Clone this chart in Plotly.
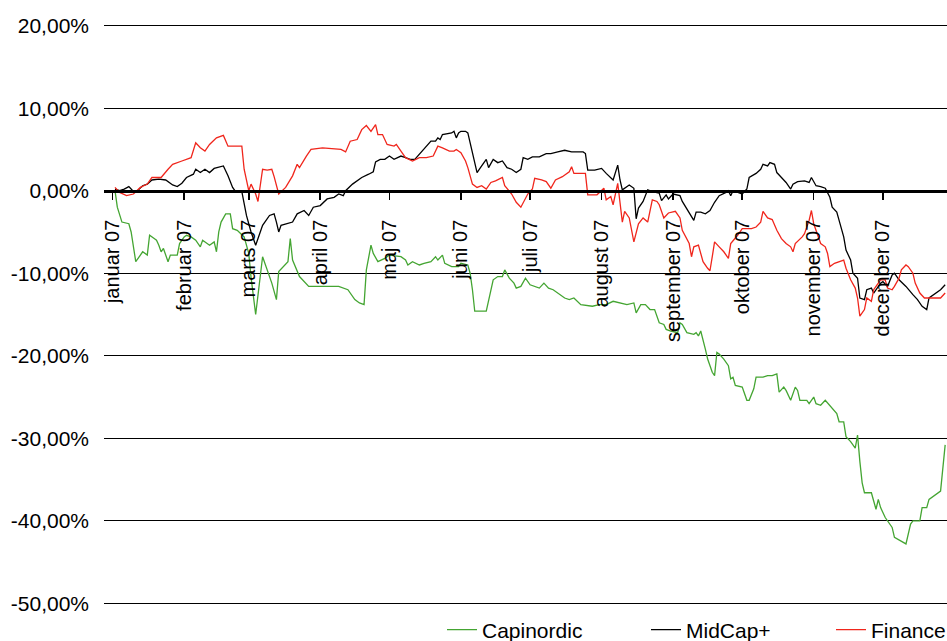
import pandas as pd
import plotly.graph_objects as go

FONT = "Liberation Sans, Arial, sans-serif"

# x = day offset from 1 Jan 2007, y = return in %
cap_days = [1, 2, 4, 7, 8, 10, 12, 13, 15, 16, 18, 19, 20, 21, 22, 23, 24, 25, 28, 29, 30, 31, 32, 34, 36, 38, 39, 42, 44, 45, 46, 47, 49, 51, 52, 54, 57, 59, 60, 62, 65, 67, 69, 71, 72, 76, 77, 78, 81, 85, 98, 102, 105, 107, 109, 110, 112, 113, 115, 118, 120, 125, 127, 128, 130, 133, 135, 138, 140, 141, 143, 144, 147, 150, 151, 154, 155, 156, 157, 162, 164, 165, 167, 169, 170, 172, 174, 175, 177, 179, 181, 185, 187, 189, 191, 193, 196, 198, 200, 203, 208, 211, 214, 217, 223, 226, 227, 229, 231, 233, 235, 237, 239, 240, 242, 245, 246, 247, 249, 252, 253, 254, 255, 257, 258, 260, 261, 262, 263, 265, 267, 268, 269, 270, 273, 275, 276, 278, 279, 282, 284, 286, 288, 289, 291, 292, 294, 296, 297, 298, 301, 302, 304, 305, 307, 309, 311, 314, 315, 317, 318, 320, 322, 323, 324, 325, 326, 329, 330, 331, 332, 333, 335, 337, 338, 339, 343, 344, 346, 347, 350, 351, 353, 354, 359, 361]
cap_vals = [0.0, -2.0, -3.8, -4.0, -5.0, -8.6, -7.8, -7.4, -7.8, -5.4, -5.8, -6.0, -6.6, -7.4, -7.0, -7.8, -8.6, -7.8, -7.8, -6.4, -6.0, -5.6, -5.4, -5.6, -6.0, -6.8, -6.0, -6.6, -6.2, -7.4, -5.0, -3.8, -2.8, -2.8, -4.6, -4.8, -5.6, -7.6, -10.5, -15.0, -8.0, -9.6, -11.2, -13.2, -9.8, -8.6, -5.8, -8.4, -10.4, -11.6, -11.6, -12.0, -13.2, -13.6, -13.8, -9.6, -6.6, -7.6, -8.6, -8.2, -7.8, -8.0, -8.4, -9.0, -8.6, -9.0, -8.8, -8.6, -8.0, -8.4, -7.8, -8.8, -9.2, -9.2, -8.8, -9.0, -10.0, -12.0, -14.6, -14.6, -12.0, -10.8, -10.4, -10.4, -9.6, -10.6, -11.2, -11.8, -11.6, -10.6, -11.4, -11.8, -11.2, -11.8, -12.0, -12.4, -13.0, -13.2, -13.0, -13.8, -14.0, -13.8, -13.8, -13.4, -13.8, -13.6, -14.8, -13.8, -13.8, -14.4, -14.4, -16.0, -16.2, -16.8, -17.0, -17.2, -16.0, -16.2, -17.2, -17.4, -17.2, -17.6, -17.0, -19.2, -20.4, -22.0, -22.4, -19.6, -19.8, -20.4, -21.2, -22.8, -22.6, -23.6, -23.8, -25.4, -25.4, -24.0, -22.6, -22.6, -22.4, -22.4, -22.2, -24.4, -23.8, -24.2, -25.4, -23.8, -24.2, -25.4, -25.4, -25.8, -25.0, -25.8, -26.0, -25.4, -26.0, -27.0, -28.0, -28.0, -29.8, -30.4, -31.2, -29.6, -32.8, -35.4, -36.6, -36.6, -37.6, -38.6, -37.4, -38.4, -39.6, -40.4, -40.8, -42.0, -42.6, -42.8, -40.4, -40.0, -40.0, -38.4, -38.4, -37.4, -36.4, -30.8]

mid_days = [1, 3, 5, 7, 9, 10, 13, 15, 17, 20, 23, 26, 28, 30, 32, 35, 36, 38, 40, 42, 44, 48, 50, 52, 53, 56, 58, 60, 62, 65, 68, 70, 71, 72, 73, 78, 80, 83, 85, 87, 90, 93, 96, 98, 100, 101, 104, 108, 111, 113, 114, 116, 118, 120, 122, 125, 127, 129, 131, 133, 135, 138, 140, 141, 142, 143, 147, 148, 149, 150, 151, 153, 154, 156, 158, 160, 162, 163, 165, 167, 169, 171, 173, 175, 177, 178, 180, 182, 185, 188, 190, 193, 196, 199, 204, 205, 206, 209, 212, 214, 217, 219, 220, 221, 224, 226, 227, 228, 230, 232, 234, 237, 238, 240, 241, 243, 246, 247, 249, 250, 252, 253, 255, 257, 259, 261, 263, 266, 267, 268, 269, 273, 275, 276, 279, 281, 282, 284, 285, 287, 288, 290, 292, 294, 295, 297, 300, 302, 303, 305, 307, 309, 311, 312, 314, 315, 317, 318, 320, 321, 323, 324, 326, 327, 329, 330, 331, 333, 334, 336, 338, 339, 341, 344, 347, 349, 351, 353, 354, 357, 359, 361]
mid_vals = [0.2, 0.0, 0.2, 0.5, -0.1, -0.2, 0.6, 0.8, 1.3, 1.4, 1.3, 0.7, 0.5, 0.9, 1.6, 2.0, 2.6, 2.2, 2.6, 2.2, 2.7, 3.0, 1.8, 0.4, 0.0, -0.1, -3.0, -5.0, -6.6, -4.2, -3.0, -2.8, -3.8, -5.0, -4.2, -3.8, -2.8, -2.4, -3.0, -2.0, -1.8, -1.0, -0.8, -0.4, -0.6, 0.0, 0.8, 1.6, 2.0, 2.3, 3.5, 3.8, 3.8, 4.2, 3.8, 4.2, 4.0, 3.8, 3.8, 4.4, 5.0, 6.0, 6.0, 6.4, 6.2, 6.8, 7.0, 7.2, 6.4, 7.0, 7.2, 7.2, 7.0, 4.6, 2.2, 3.0, 3.8, 2.8, 3.8, 3.4, 3.6, 2.8, 2.6, 2.2, 2.6, 4.0, 3.8, 4.1, 4.1, 4.5, 4.5, 4.7, 4.9, 4.7, 4.7, 4.5, 2.5, 2.5, 2.7, 2.1, 1.3, 3.1, 1.3, 0.1, 0.7, 0.3, -3.4, -2.1, -1.3, 0.1, -0.1, -0.3, -1.2, -0.5, -1.0, -0.4, -0.6, -1.3, -2.2, -2.8, -3.6, -2.6, -2.6, -2.8, -2.4, -1.4, -0.6, -0.2, 0.0, -0.6, 0.0, -0.4, 0.2, 1.6, 2.1, 2.6, 3.2, 3.0, 3.4, 3.2, 2.2, 1.6, 1.0, 0.2, 0.8, 1.1, 1.2, 1.0, 1.6, 0.6, 0.5, 0.3, -0.8, -2.0, -2.6, -3.6, -5.6, -7.2, -8.4, -10.0, -10.6, -13.0, -13.2, -12.0, -11.8, -12.4, -12.0, -11.2, -11.0, -11.6, -10.2, -10.0, -10.8, -11.6, -12.6, -13.2, -14.0, -14.4, -13.0, -12.4, -12.0, -11.4]

fin_days = [1, 3, 6, 9, 12, 15, 17, 21, 24, 26, 30, 32, 34, 36, 38, 40, 42, 45, 48, 50, 56, 57, 59, 60, 62, 63, 65, 67, 69, 70, 72, 75, 78, 80, 81, 84, 86, 91, 99, 101, 103, 106, 108, 110, 112, 114, 115, 117, 119, 122, 123, 125, 127, 130, 133, 136, 139, 141, 143, 146, 148, 149, 151, 153, 154, 156, 158, 160, 162, 164, 166, 169, 170, 173, 175, 177, 178, 180, 182, 183, 186, 188, 190, 192, 195, 198, 199, 200, 205, 206, 210, 213, 214, 216, 217, 219, 221, 222, 224, 226, 228, 230, 232, 234, 236, 237, 239, 241, 244, 246, 247, 250, 251, 252, 254, 255, 256, 258, 259, 260, 261, 263, 265, 267, 268, 271, 273, 277, 279, 281, 282, 284, 286, 288, 290, 292, 294, 295, 296, 299, 300, 302, 303, 304, 307, 309, 310, 311, 313, 317, 318, 320, 322, 323, 324, 326, 327, 329, 330, 331, 333, 335, 336, 338, 339, 341, 342, 344, 345, 347, 348, 350, 352, 355, 359, 361]
fin_vals = [0.4, -0.2, -0.6, -0.4, 0.4, 0.8, 1.6, 1.6, 2.6, 3.2, 3.6, 3.8, 4.0, 5.8, 5.2, 4.8, 5.6, 6.4, 6.7, 5.4, 5.4, 2.6, 0.0, 0.8, -0.4, -1.3, 2.6, 2.5, 2.6, 1.7, -0.4, 0.4, 1.8, 3.2, 2.8, 4.2, 5.0, 5.2, 5.0, 4.7, 6.0, 6.2, 7.4, 7.9, 7.2, 8.0, 6.8, 6.8, 5.6, 5.4, 5.6, 4.8, 4.0, 3.6, 4.0, 4.0, 4.2, 5.4, 5.2, 4.8, 4.8, 5.0, 4.6, 3.6, 2.8, 0.8, 0.4, 0.6, 0.2, 1.0, 1.2, 1.6, 0.6, -0.4, -1.4, -2.0, -1.4, -0.4, 0.2, 1.5, 1.3, 1.1, 0.3, 1.3, 1.7, 2.3, 2.9, 2.1, 2.1, -0.5, -0.5, 0.3, -1.1, -0.7, -1.7, 0.9, -3.8, -2.5, -3.3, -6.2, -4.0, -3.3, -3.8, -1.1, -1.3, -1.7, -3.3, -2.7, -2.5, -3.3, -4.8, -6.4, -8.0, -6.8, -6.6, -7.6, -8.6, -9.4, -9.7, -8.0, -6.2, -6.8, -7.4, -8.2, -6.4, -5.4, -4.6, -4.6, -4.4, -3.8, -2.5, -3.3, -3.5, -4.8, -5.8, -6.4, -6.8, -7.4, -6.4, -5.6, -5.2, -3.6, -2.4, -4.0, -6.4, -6.8, -7.6, -9.2, -8.8, -8.4, -9.4, -10.8, -11.8, -13.0, -15.2, -14.4, -13.0, -13.4, -12.0, -11.6, -10.8, -10.8, -11.8, -12.0, -11.6, -10.6, -9.6, -9.0, -9.2, -10.0, -11.2, -12.4, -13.0, -13.0, -13.0, -12.4]

month_ticks = ["2007-01-01", "2007-02-01", "2007-03-01", "2007-04-01", "2007-05-01", "2007-06-01",
               "2007-07-01", "2007-08-01", "2007-09-01", "2007-10-01", "2007-11-01", "2007-12-01"]
month_labels = ["januar 07", "februar 07", "marts 07", "april 07", "maj 07", "juni 07",
                "juli 07", "august 07", "september 07", "oktober 07", "november 07", "december 07"]
y_ticks = [20, 10, 0, -10, -20, -30, -40, -50]
y_labels = ["20,00%", "10,00%", "0,00%", "-10,00%", "-20,00%", "-30,00%", "-40,00%", "-50,00%"]

series_names = ["Capinordic", "MidCap+", "Finance"]
series_colors = ["#44a532", "#000000", "#f0261c"]

start = pd.Timestamp("2007-01-01")


def to_dates(days):
    return [start + pd.Timedelta(days=d) for d in days]


fig = go.Figure()
all_days = [cap_days, mid_days, fin_days]
all_vals = [cap_vals, mid_vals, fin_vals]
legends = ["legend", "legend2", "legend3"]
for name, color, d, v, lg in zip(series_names, series_colors, all_days, all_vals, legends):
    fig.add_trace(go.Scatter(x=to_dates(d), y=v, mode="lines", name=name,
                             line=dict(color=color, width=1.3), legend=lg,
                             hoverinfo="skip"))

W, H = 947, 641
L, R, T, B = 104, 0, 24, 36
plot_w = W - L - R
plot_h = H - T - B
Y_MIN, Y_MAX = -50.2, 20.2
zero_pos = (0 - Y_MIN) / (Y_MAX - Y_MIN)


def leg(xpx, ypx):
    return dict(orientation="h", x=(xpx - L) / plot_w, y=(H - B - ypx) / plot_h,
                xanchor="left", yanchor="middle",
                font=dict(family=FONT, size=21, color="black"),
                bgcolor="rgba(0,0,0,0)", borderwidth=0)


fig.update_layout(
    template="none",
    width=W, height=H,
    margin=dict(l=L, r=R, t=T, b=B, autoexpand=False),
    paper_bgcolor="white", plot_bgcolor="white",
    font=dict(family=FONT, color="black"),
    showlegend=True,
    hovermode=False,
    legend=leg(442, 630),
    legend2=leg(646, 630),
    legend3=leg(831, 630),
    xaxis=dict(type="date", range=["2006-12-28 05:30", "2007-12-28 19:00"],
               anchor="free", position=zero_pos,
               showline=True, linecolor="black", linewidth=3,
               ticks="outside", ticklen=7, tickwidth=1.5, tickcolor="black",
               tickvals=month_ticks, ticktext=month_labels, tickangle=-90,
               tickfont=dict(family=FONT, size=20, color="black"),
               ticklabelstandoff=12,
               showgrid=False, zeroline=False, automargin=False),
    yaxis=dict(range=[Y_MIN, Y_MAX], tickvals=y_ticks, ticktext=y_labels,
               tickfont=dict(family=FONT, size=21, color="black"),
               showgrid=True, gridcolor="black", gridwidth=1,
               zeroline=False, showline=False, ticks="",
               ticklabelstandoff=14, automargin=False),
)

fig.write_html("out.html", config={"displayModeBar": False, "staticPlot": True},
               post_script="document.body.style.margin='0';document.body.style.overflow='hidden';")
